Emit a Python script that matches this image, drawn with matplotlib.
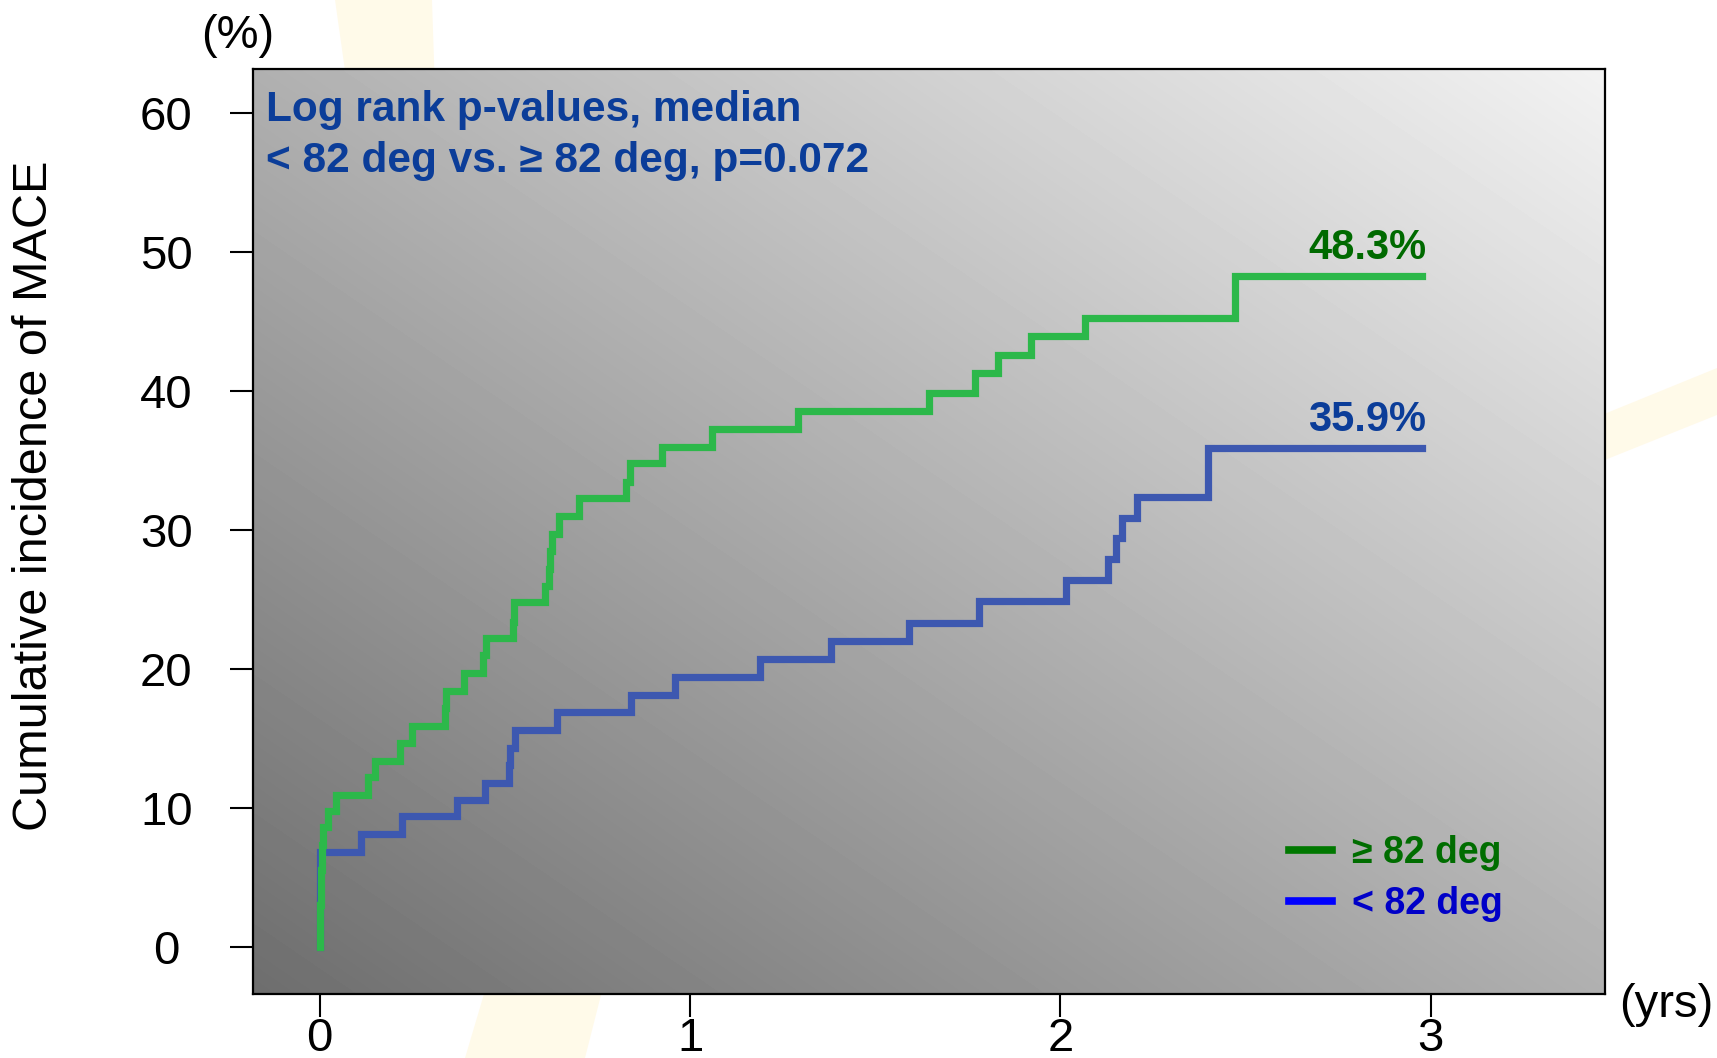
import numpy as np
import matplotlib.pyplot as plt
from matplotlib.lines import Line2D
from matplotlib.patches import Polygon

plt.rcParams['font.family'] = ['Liberation Sans', 'DejaVu Sans']

# >= 82 deg group: event times (yrs) and cumulative incidence of MACE (%)
t_high = [0.0, 0.001, 0.003, 0.006, 0.010, 0.023, 0.044, 0.130, 0.149, 0.218,
          0.248, 0.338, 0.342, 0.390, 0.441, 0.450, 0.522, 0.524, 0.609, 0.620,
          0.623, 0.627, 0.647, 0.700, 0.826, 0.838, 0.925, 1.060, 1.290, 1.645,
          1.770, 1.830, 1.920, 2.065, 2.470, 2.976]
inc_high = [0.0, 3.0, 5.5, 7.3, 8.6, 9.8, 10.9, 12.2, 13.4, 14.7,
            15.9, 17.2, 18.4, 19.7, 21.0, 22.2, 23.4, 24.8, 26.0, 27.2,
            28.5, 29.7, 31.0, 32.3, 33.5, 34.8, 36.0, 37.3, 38.6, 39.9,
            41.3, 42.6, 44.0, 45.3, 48.3, 48.3]

# < 82 deg group
t_low = [0.0, 0.0, 0.002, 0.112, 0.222, 0.371, 0.445, 0.510, 0.515, 0.528,
         0.640, 0.840, 0.960, 1.190, 1.380, 1.590, 1.780, 2.014, 2.128, 2.149,
         2.167, 2.207, 2.397, 2.976]
inc_low = [0.0, 4.8, 6.8, 8.1, 9.4, 10.6, 11.8, 13.1, 14.3, 15.6,
           16.9, 18.1, 19.4, 20.7, 22.0, 23.3, 24.9, 26.4, 27.9, 29.4,
           30.9, 32.4, 35.9, 35.9]

labels = ['\u2265 82 deg', '< 82 deg']
final_high = '48.3%'
final_low = '35.9%'
xticks = [0, 1, 2, 3]
yticks = [0, 10, 20, 30, 40, 50, 60]

W, H = 1717, 1058
fig = plt.figure(figsize=(W / 100, H / 100), dpi=100)

# faint yellow rays of the backdrop logo
def px(pts):
    return [(x / W, 1 - y / H) for x, y in pts]

rays = [
    [(335, 0), (432, 0), (436, 120), (352, 120)],
    [(500, 940), (615, 940), (585, 1058), (465, 1058)],
    [(1560, 432), (1717, 368), (1717, 415), (1560, 478)],
]
for r in rays:
    fig.add_artist(Polygon(px(r), closed=True, transform=fig.transFigure,
                           facecolor='#fff6d8', edgecolor='none', alpha=0.55, zorder=-5))

ax = fig.add_axes([253 / W, 1 - 994 / H, (1605 - 253) / W, (994 - 69) / H])

# diagonal grey gradient behind the curves
u = np.linspace(0, 1, 300)
v = np.linspace(0, 1, 300)
U, V = np.meshgrid(u, v)
shade = 0.43 + 0.26 * (U + V)
ax.imshow(shade, extent=[0, 1, 0, 1], origin='lower', transform=ax.transAxes,
          cmap='gray', vmin=0, vmax=1, aspect='auto', interpolation='bilinear', zorder=0)

ax.plot(t_low, inc_low, drawstyle='steps-post', color='#3d58b0', lw=5.2,
        solid_joinstyle='miter', zorder=3)
ax.plot(t_high, inc_high, drawstyle='steps-post', color='#2cb84a', lw=5.2,
        solid_joinstyle='miter', zorder=4)

ax.set_xlim(-0.18, 3.47)
ax.set_ylim(-3.4, 63.2)
ax.set_xticks(xticks)
ax.set_yticks(yticks)
ax.tick_params(axis='both', direction='out', length=16.5, width=1.5, labelsize=34)
ax.tick_params(axis='x', pad=0)
ax.tick_params(axis='y', pad=46)
for lb in ax.get_yticklabels():
    lb.set_horizontalalignment('center')
for s in ax.spines.values():
    s.set_linewidth(1.6)

# end-of-follow-up labels
ax.annotate(final_high, xy=(t_high[-1], inc_high[-1]), xytext=(3, 6),
            textcoords='offset points', ha='right', va='bottom',
            fontsize=30, fontweight='bold', color='#006a00', zorder=5)
ax.annotate(final_low, xy=(t_low[-1], inc_low[-1]), xytext=(3, 6),
            textcoords='offset points', ha='right', va='bottom',
            fontsize=30, fontweight='bold', color='#0b3d99', zorder=5)

ax.text(0.0096, 0.956, 'Log rank p-values, median', transform=ax.transAxes,
        ha='left', va='center', fontsize=30.5, fontweight='bold', color='#0b3d99', zorder=5)
ax.text(0.0096, 0.901, '< 82 deg vs. \u2265 82 deg, p=0.072', transform=ax.transAxes,
        ha='left', va='center', fontsize=30.5, fontweight='bold', color='#0b3d99', zorder=5)

handles = [Line2D([], [], color='#007800', lw=5.5),
           Line2D([], [], color='#0000ff', lw=5.5)]
leg = ax.legend(handles, labels, loc='center left', bbox_to_anchor=(0.766, 0.125),
                frameon=False, prop={'weight': 'bold', 'size': 27},
                handlelength=1.15, handletextpad=0.55, labelspacing=0.4,
                borderpad=0, borderaxespad=0)
for txt, c in zip(leg.get_texts(), ['#006d00', '#0000c8']):
    txt.set_color(c)

fig.text(35 / W, 1 - 496 / H, 'Cumulative incidence of MACE', rotation=90,
         ha='center', va='center', fontsize=35)
fig.text(238 / W, 1 - 36 / H, '(%)', ha='center', va='center', fontsize=34)
fig.text(1666 / W, 1 - 1005 / H, '(yrs)', ha='center', va='center', fontsize=34)

fig.savefig('out.png', dpi=100, facecolor='white')
